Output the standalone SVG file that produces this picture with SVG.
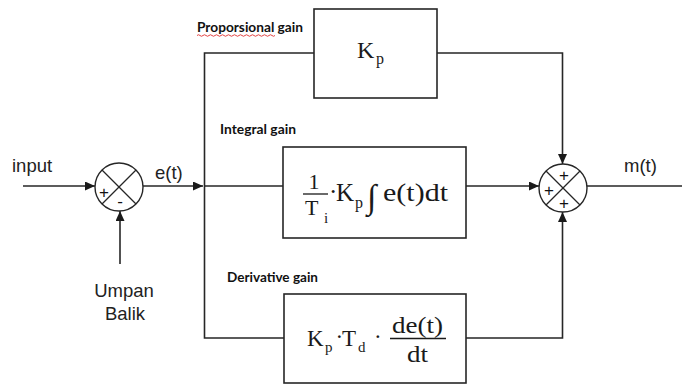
<svg xmlns="http://www.w3.org/2000/svg" width="682" height="385" viewBox="0 0 682 385">
<defs>
<style>
.ln{fill:none;stroke:#262626;stroke-width:1.6}
.box{fill:#fff;stroke:#262626;stroke-width:1.6}
.sum{fill:#fff;stroke:#262626;stroke-width:1.4}
.x{stroke:#262626;stroke-width:1.2}
.lab{font-family:"Liberation Sans",Arial,sans-serif;font-size:18.5px;fill:#222}
.gain{font-family:Lato,"Open Sans",sans-serif;font-weight:bold;font-size:12.5px;fill:#111}
.m{font-family:"Liberation Serif","Times New Roman",serif;fill:#1a1a1a}
.sg{font-family:"Liberation Sans",Arial,sans-serif;font-size:17px;fill:#111}
</style>
<marker id="ar" markerUnits="userSpaceOnUse" markerWidth="11" markerHeight="10" refX="10" refY="4.5" orient="auto">
<path d="M0,0 L10,4.5 L0,9 z" fill="#1a1a1a"/>
</marker>
</defs>
<rect width="682" height="385" fill="#fff"/>

<g id="connectors">
<line class="ln" x1="23" y1="186" x2="95" y2="186" marker-end="url(#ar)"/>
<line class="ln" x1="120" y1="264" x2="120" y2="211" marker-end="url(#ar)"/>
<line class="ln" x1="143" y1="186" x2="203" y2="186" marker-end="url(#ar)"/>
<line class="ln" x1="204" y1="186" x2="283" y2="186"/>
<polyline class="ln" points="314,53 204.5,53 204.5,338 284,338"/>
<polyline class="ln" points="437,53 562.5,53 562.5,164" marker-end="url(#ar)"/>
<line class="ln" x1="466" y1="186" x2="539" y2="186" marker-end="url(#ar)"/>
<polyline class="ln" points="466,338 562.5,338 562.5,212" marker-end="url(#ar)"/>
<line class="ln" x1="587" y1="186" x2="682" y2="186"/>
</g>

<g id="sum1">
<circle class="sum" cx="119" cy="187" r="24"/>
<line class="x" x1="102" y1="170" x2="136" y2="204"/>
<line class="x" x1="136" y1="170" x2="102" y2="204"/>
<text class="sg" x="104" y="198" text-anchor="middle">+</text>
<text class="sg" x="120" y="207" text-anchor="middle">-</text>
</g>

<g id="sum2">
<circle class="sum" cx="563" cy="188" r="24"/>
<line class="x" x1="546" y1="171" x2="580" y2="205"/>
<line class="x" x1="580" y1="171" x2="546" y2="205"/>
<text class="sg" x="564" y="181" text-anchor="middle">+</text>
<text class="sg" x="549" y="196" text-anchor="middle">+</text>
<text class="sg" x="564" y="209" text-anchor="middle">+</text>
</g>

<g id="kp">
<rect class="box" x="314" y="9" width="123" height="89"/>
<text class="m" x="357" y="58" font-size="24">K</text>
<text class="m" x="376" y="64" font-size="16">p</text>
</g>

<g id="integral">
<rect class="box" x="283" y="147" width="183" height="91"/>
<text class="m" x="314" y="189" font-size="22" text-anchor="middle">1</text>
<line x1="303" y1="194" x2="328" y2="194" stroke="#1a1a1a" stroke-width="1.3"/>
<text class="m" x="305" y="215" font-size="22">T</text>
<text class="m" x="324" y="223" font-size="15">i</text>
<text class="m" x="329" y="200" font-size="25">·</text>
<text class="m" x="336" y="201" font-size="25">K</text>
<text class="m" x="355" y="208" font-size="16">p</text>
<text class="m" x="367" y="208" font-size="34" font-weight="bold">∫</text>
<text class="m" x="383" y="201" font-size="25" textLength="65" lengthAdjust="spacingAndGlyphs">e(t)dt</text>
</g>

<g id="derivative">
<rect class="box" x="284" y="294" width="182" height="89"/>
<text class="m" x="307" y="346" font-size="23">K</text>
<text class="m" x="325" y="352" font-size="15">p</text>
<text class="m" x="335.5" y="344" font-size="23">·</text>
<text class="m" x="342" y="346" font-size="23">T</text>
<text class="m" x="358" y="352" font-size="15">d</text>
<text class="m" x="374" y="344" font-size="23">·</text>
<text class="m" x="392" y="333" font-size="23" textLength="51" lengthAdjust="spacingAndGlyphs">de(t)</text>
<line x1="390" y1="338.5" x2="446" y2="338.5" stroke="#1a1a1a" stroke-width="1.3"/>
<text class="m" x="407" y="362" font-size="23" textLength="21" lengthAdjust="spacingAndGlyphs">dt</text>
</g>

<g id="labels">
<text class="lab" x="12" y="172">input</text>
<text class="lab" x="155" y="179">e(t)</text>
<text class="lab" x="624" y="172">m(t)</text>
<text class="lab" x="124" y="297" text-anchor="middle" font-size="19">Umpan</text>
<text class="lab" x="125" y="320" text-anchor="middle" font-size="19">Balik</text>
<text class="gain" x="197" y="32" textLength="106" lengthAdjust="spacingAndGlyphs">Proporsional gain</text>
<path d="M197,35.5 q1.5,-1.5 3,0 t3,0 t3,0 t3,0 t3,0 t3,0 t3,0 t3,0 t3,0 t3,0 t3,0 t3,0 t3,0 t3,0 t3,0 t3,0 t3,0 t3,0 t3,0 t3,0 t3,0 t3,0 t3,0 t3,0 t3,0 t3,0" fill="none" stroke="#e03030" stroke-width="0.9"/>
<text class="gain" x="220" y="134" textLength="76" lengthAdjust="spacingAndGlyphs">Integral gain</text>
<text class="gain" x="227" y="282" textLength="91" lengthAdjust="spacingAndGlyphs">Derivative gain</text>
</g>
</svg>
